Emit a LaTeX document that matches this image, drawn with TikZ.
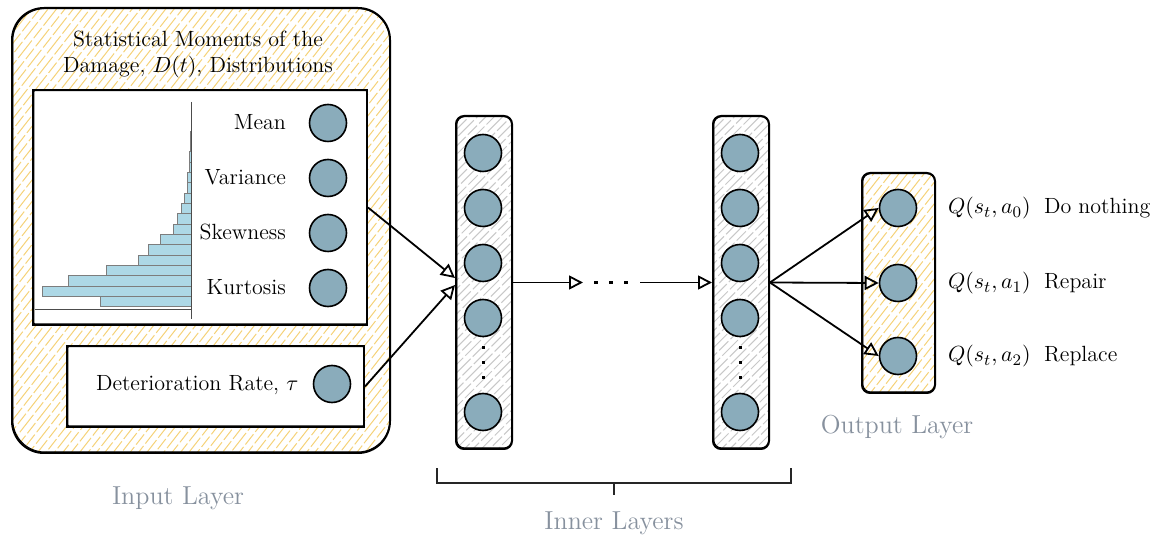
\documentclass[tikz,border=0pt]{standalone}
\usetikzlibrary{arrows.meta}

\definecolor{neuron}{RGB}{138,172,187}
\definecolor{hatchyellow}{RGB}{245,210,120}
\definecolor{hatchgray}{RGB}{200,200,200}
\definecolor{barblue}{RGB}{173,216,230}
\definecolor{bargray}{RGB}{125,125,125}
\definecolor{labelgray}{RGB}{135,145,158}

\tikzset{
  hatch/.style 2 args={path picture={
    \foreach \k in {-40,...,50} {
      \pgfmathsetmacro\ph{mod(abs(\k)*7.3,19)}
      \draw[#1, line width=0.5pt, dash pattern=on 11pt off 1.5pt on 6.5pt off 1.5pt, dash phase=\ph pt]
        ([xshift=\k*4.2pt]path picture bounding box.south west) -- ++(#2:340pt);
    }
  }},
  inbox/.style={draw, line width=1pt, rounded corners=16pt, inner sep=0pt, hatch={hatchyellow}{52}},
  outbox/.style={draw, line width=1pt, rounded corners=4pt, inner sep=0pt, hatch={hatchyellow}{52}},
  layerbox/.style={draw, line width=1pt, fill=white, rounded corners=4pt, inner sep=0pt,
    minimum width=28pt, minimum height=166.5pt, hatch={hatchgray}{45}},
  whitebox/.style={draw, line width=1pt, fill=white, inner sep=0pt},
  sketch/.style={line width=0.5pt},
  neuron/.style={circle, draw, line width=0.8pt, fill=neuron, minimum size=18.5pt, inner sep=0pt},
  bar/.style={draw=bargray, line width=0.4pt, fill=barblue},
  conn/.style={line width=0.9pt, -{Triangle[open, length=7pt, width=7pt]}},
  layerlabel/.style={text=labelgray, font=\fontsize{13}{16}\selectfont},
  bracket/.style={line width=0.9pt, draw=black!85}
}

\begin{document}
\begin{tikzpicture}[x=0.5pt, y=-0.5pt, font=\fontsize{11}{13.5}\selectfont]
\useasboundingbox (0,0) rectangle (1155,544);

% ---------- input layer ----------
\node[inbox, minimum width=189pt, minimum height=222.5pt] (inp) at (201,230.5) {};
\node[anchor=base] (t1) at (198,46.5) {Statistical Moments of the};
\node[anchor=base] (t2) at (198,72.5) {Damage, $D(t)$, Distributions};

\node[whitebox, minimum width=167pt, minimum height=117.5pt] (mom) at (200,207.5) {};

% histogram of the damage distribution
\foreach \w [count=\i] in {91.3,148.7,123,84.7,53,43,31.3,18,14.3,10.3,6.7,4.3,4,2,2,1,1}
  \draw[bar] ({191.3-\w},{306.7-(\i-1)*10.33}) rectangle (191.3,{306.7-\i*10.33});
\draw[draw=black!70, line width=0.5pt] (191.3,102) -- (191.3,319);
\draw[draw=black!70, line width=0.5pt] (35,310) -- (191.3,310);

\foreach \lab/\y/\n in {Mean/123/m1, Variance/178/m2, Skewness/233/m3, Kurtosis/288/m4} {
  \node[neuron] (\n) at (328,\y) {};
  \node[anchor=base east] (\n-l) at (293,\y+6.5) {\lab};
}

\node[whitebox, minimum width=148.5pt, minimum height=40.5pt] (det) at (215.5,386.5) {};
\node[neuron] (dn) at (332,384) {};
\node[anchor=base west] (dl) at (89,391) {Deterioration Rate, $\tau$};

\node[layerlabel] (inlab) at (178,498) {Input Layer};

% ---------- inner layers ----------
\foreach \L/\x in {L1/484, L2/741} {
  \node[layerbox] (\L) at (\x,282.5) {};
  \foreach \y [count=\j] in {153,208,263,318,412}
    \node[neuron] (\L n\j) at (\x-1,\y) {};
  \foreach \y in {348,363,378}
    \fill (\x-2.5,\y-1.5) rectangle ++(3,3);
}

\coordinate (hl) at (583,282.5);
\coordinate (hr) at (640,282.5);
\foreach \x in {596,611,626}
  \fill (\x-1.75,280.75) rectangle ++(3.5,3.5);

\draw[bracket] (437,468) -- (437,483) -- (791,483) -- (791,468);
\draw[bracket] (614,483) -- (614,495);
\node[layerlabel] (innerlab) at (614,523) {Inner Layers};

% ---------- output layer ----------
\node[outbox, minimum width=36.5pt, minimum height=110pt] (out) at (898.5,283) {};
\foreach \n/\y/\a/\act in {o0/208/0/Do nothing, o1/283/1/Repair, o2/356/2/Replace} {
  \node[neuron] (\n) at (898,\y) {};
  \node[anchor=base west] (\n-q) at (941,\y+6) {$Q(s_t,a_{\a})$};
  \node[anchor=base west] (\n-a) at (1037,\y+6) {\act};
}
\node[layerlabel] (outlab) at (897,427) {Output Layer};

% second, lighter pen stroke on the box outlines
\foreach \b/\r in {inp/16pt, mom/0.5pt, det/0.5pt, L1/4pt, L2/4pt, out/4pt}
  \draw[sketch, rounded corners=\r]
    ([shift={(0.9pt,-0.8pt)}]\b.north west) rectangle ([shift={(-0.6pt,1pt)}]\b.south east);

% ---------- connectors ----------
\draw[conn] (mom.east) -- ([yshift=2.25pt]L1.west);
\draw[conn] (det.east) -- ([yshift=-1.25pt]L1.west);
\draw[conn] (L1.east) -- (hl);
\draw[conn] (hr) -- (L2.west);
\foreach \o in {o0,o1,o2}
  \draw[conn] (L2.east) -- (\o.west);
\end{tikzpicture}
\end{document}
